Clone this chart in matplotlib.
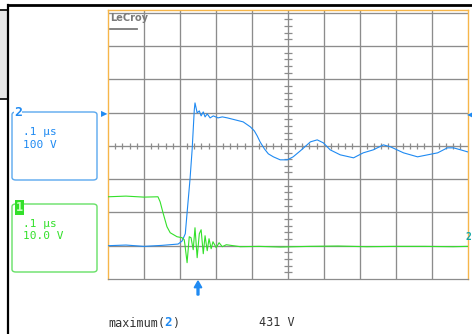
import numpy as np
import matplotlib
matplotlib.use("Agg")
import matplotlib.pyplot as plt
from matplotlib.patches import FancyBboxPatch, Rectangle
from matplotlib.lines import Line2D

# channel 2 (100 V/div), time in us from left edge of screen
t2_us = [0.000, 0.050, 0.100, 0.150, 0.195, 0.206, 0.215, 0.220, 0.228, 0.234,
         0.237, 0.240, 0.242, 0.245, 0.248, 0.254, 0.259, 0.265, 0.270, 0.276,
         0.284, 0.293, 0.306, 0.318, 0.332, 0.354, 0.376, 0.396, 0.407, 0.415,
         0.423, 0.435, 0.446, 0.460, 0.479, 0.499, 0.515, 0.535, 0.563, 0.582,
         0.599, 0.618, 0.646, 0.683, 0.710, 0.738, 0.766, 0.786, 0.822, 0.861,
         0.889, 0.917, 0.944, 0.961, 0.981, 1.000]
v2_volts = [0, 2, -2, 1, 5, 14, 36, 99, 198, 288,
            348, 408, 429, 414, 399, 405, 390, 402, 387, 396,
            384, 390, 384, 387, 384, 378, 372, 357, 345, 330,
            312, 291, 276, 267, 258, 258, 267, 285, 312, 318,
            309, 288, 273, 264, 279, 288, 303, 297, 279, 267,
            273, 279, 294, 294, 288, 282]

# channel 1 (10 V/div)
t1_us = [0.000, 0.050, 0.100, 0.139, 0.145, 0.153, 0.164, 0.173, 0.192, 0.206,
         0.212, 0.214, 0.220, 0.226, 0.231, 0.237, 0.242, 0.248, 0.254, 0.259,
         0.265, 0.270, 0.276, 0.281, 0.287, 0.292, 0.301, 0.309, 0.318, 0.329,
         0.368, 0.420, 0.480, 0.560, 0.640, 0.720, 0.800, 0.880, 0.960, 1.000]
v1_volts = [14.7, 14.9, 14.6, 14.7, 13.2, 9.9, 5.7, 3.9, 2.7, 2.4,
            1.8, 0.3, -5.1, 2.7, 2.4, -1.2, 5.4, -3.6, 3.6, 4.8,
            -2.4, 3.0, -1.5, 2.1, -0.9, 1.2, -0.6, 0.9, -0.3, 0.3,
            -0.3, -0.2, -0.4, -0.2, -0.1, -0.3, -0.2, -0.2, -0.3, -0.2]

ch2_label = ".1 \u00b5s\n100 V"
ch1_label = ".1 \u00b5s\n10.0 V"
meas_name = "maximum("
meas_value = "431 V"

BLUE = "#1f8af2"
GREEN = "#33e02a"
ORANGE = "#f6b64a"
GRIDC = "#8c8c8c"
W, H = 472, 334


def fx(px):
    return px / W


def fy(py):
    return 1 - py / H


fig = plt.figure(figsize=(W / 100, H / 100), dpi=100)
fig.patch.set_facecolor("white")

# scope screen, units = divisions
ax = fig.add_axes([fx(108), fy(279), (467.5 - 108) / W, (279 - 10) / H])
ax.set_xlim(0, 10)
ax.set_ylim(-4, 4 + 2.7 / 33.3)
ax.set_xticks([])
ax.set_yticks([])
for s in ["left", "right", "top"]:
    ax.spines[s].set_color(ORANGE)
    ax.spines[s].set_linewidth(1.0)
ax.spines["bottom"].set_color(GRIDC)
ax.spines["bottom"].set_linewidth(0.9)

for i in range(1, 10):
    ax.axvline(i, color=GRIDC, lw=0.95, zorder=1)
for j in range(-3, 5):
    ax.axhline(j, color=GRIDC, lw=0.95, zorder=1)

# minor ticks on the center cross
minor_y = [v for v in np.arange(-4, 4.01, 0.2) if abs(v - round(v)) > 1e-6]
minor_x = [v for v in np.arange(0, 10.01, 0.2) if abs(v - round(v)) > 1e-6]
ax.plot([5] * len(minor_y), minor_y, ls="none", marker="_", ms=6, mew=0.9,
        color=GRIDC, zorder=1)
ax.plot(minor_x, [0] * len(minor_x), ls="none", marker="|", ms=5, mew=0.9,
        color=GRIDC, zorder=1)

# traces
x2 = np.array(t2_us) / 0.1
y2 = np.array(v2_volts) / 100.0 - 3
x1 = np.array(t1_us) / 0.1
y1 = np.array(v1_volts) / 10.0 - 3
ax.plot(x2, y2, color=BLUE, lw=0.8, zorder=3)
ax.plot(x1, y1, color=GREEN, lw=0.8, zorder=4)

ax.text(0.05, 4.0, "LeCroy", fontsize=7, fontweight="bold", color="#7a7a7a",
        va="top", ha="left", family="DejaVu Sans Condensed")
ax.add_line(Line2D([0.06, 0.82], [3.5, 3.5], color="#7a7a7a", lw=1.3))

# frame around whole display
fig.add_artist(Line2D([fx(8), fx(8)], [fy(5), 0], color="black", lw=1.6))
fig.add_artist(Line2D([fx(8), 1], [fy(5), fy(5)], color="black", lw=2.0))
fig.add_artist(Rectangle((0, fy(99)), fx(7.5), fy(10) - fy(99),
                         facecolor="#e6e6e6", edgecolor="none"))
fig.add_artist(Line2D([0, fx(8)], [fy(10), fy(10)], color="black", lw=1.2))
fig.add_artist(Line2D([0, fx(8)], [fy(99.5), fy(99.5)], color="black", lw=1.2))

# channel boxes
fig.add_artist(FancyBboxPatch((fx(12), fy(180)), fx(97) - fx(12), fy(112) - fy(180),
                              boxstyle="round,pad=0,rounding_size=0.008",
                              facecolor="white", edgecolor="#5aa8ee", lw=1.0))
fig.text(fx(14), fy(113), "2", color=BLUE, fontsize=9.5, fontweight="bold",
         va="center", ha="left", family="DejaVu Sans Mono",
         bbox=dict(facecolor="white", edgecolor="none", pad=0))
fig.text(fx(23), fy(138.5), ch2_label, color=BLUE, fontsize=8,
         family="DejaVu Sans Mono", va="center", ha="left", linespacing=1.4)

fig.add_artist(FancyBboxPatch((fx(12), fy(272)), fx(97) - fx(12), fy(204) - fy(272),
                              boxstyle="round,pad=0,rounding_size=0.008",
                              facecolor="white", edgecolor="#66e066", lw=1.0))
fig.text(fx(16), fy(207.5), "1", color="#c8ffc0", fontsize=8.5, fontweight="bold",
         va="center", ha="left", family="DejaVu Sans Mono",
         bbox=dict(facecolor=GREEN, edgecolor="none", pad=0.6))
fig.text(fx(23), fy(230), ch1_label, color=GREEN, fontsize=8,
         family="DejaVu Sans Mono", va="center", ha="left", linespacing=1.3)

# level markers
fig.text(fx(101), fy(113.5), "\u25b6", color=BLUE, fontsize=6, va="center", ha="left")
fig.text(fx(466.5), fy(115), "\u25c0", color=BLUE, fontsize=6, va="center", ha="left")
fig.text(fx(465), fy(237), "2", color="#12a6a6", fontsize=7, fontweight="bold",
         va="center", ha="left", family="DejaVu Sans Mono")

# trigger arrow
fig.add_artist(matplotlib.patches.FancyArrow(fx(198), fy(295), 0, fy(281) - fy(295),
                                             width=0.004, head_width=0.016,
                                             head_length=0.02,
                                             length_includes_head=True,
                                             color=BLUE, transform=fig.transFigure))

# measurement line
fig.text(fx(108), fy(323), meas_name, color="#333333", fontsize=8.5,
         family="DejaVu Sans Mono", va="center", ha="left")
fig.text(fx(164), fy(323), "2", color=BLUE, fontsize=9, fontweight="bold",
         family="DejaVu Sans Mono", va="center", ha="left")
fig.text(fx(172), fy(323), ")", color="#333333", fontsize=8.5,
         family="DejaVu Sans Mono", va="center", ha="left")
fig.text(fx(259), fy(323), meas_value, color="#333333", fontsize=8.5,
         family="DejaVu Sans Mono", va="center", ha="left")

fig.savefig("out.png", dpi=100)
